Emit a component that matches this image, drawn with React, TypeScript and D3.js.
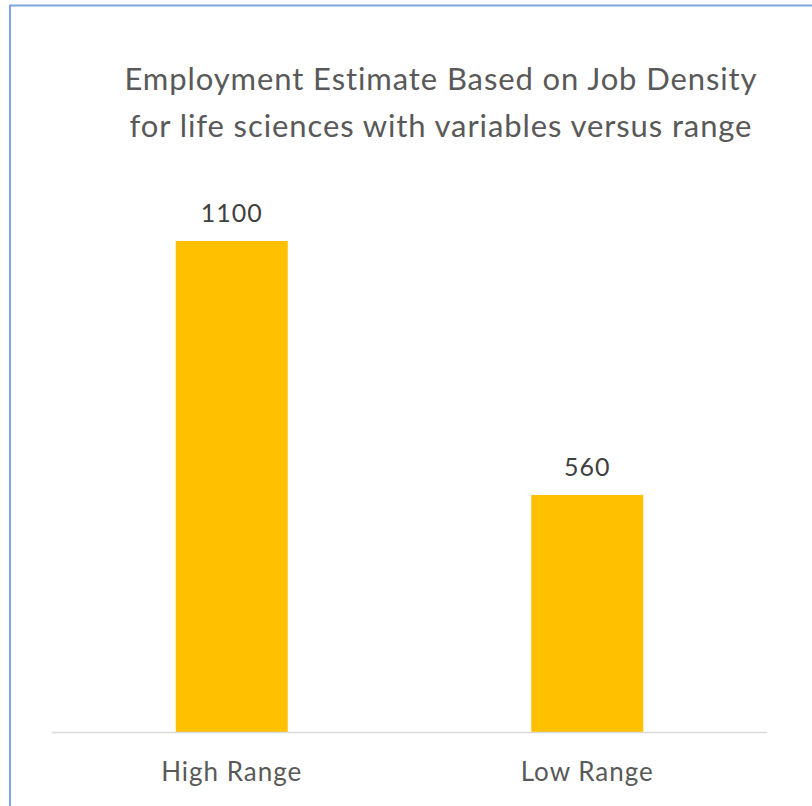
import React from "react";
import * as d3 from "d3";

const categories: string[] = ["High Range", "Low Range"];
const values: number[] = [1100, 560];
const valueLabels: string[] = ["1100", "560"];
const titleLines: string[] = [
  "Employment Estimate Based on Job Density",
  "for life sciences with variables versus range",
];

const W = 812;
const H = 806;
const FONT = "Lato, 'Open Sans', sans-serif";

export default function App() {
  const x = d3
    .scaleBand<string>()
    .domain(categories)
    .range([54, 765])
    .paddingInner(0.685)
    .paddingOuter(0.3425);
  const y = d3.scaleLinear().domain([56, 1100]).range([732, 241]);

  return (
    <svg
      width={W}
      height={H}
      style={{ position: "absolute", left: 0, top: 0, background: "#fff" }}
    >
      <rect x={10} y={5.5} width={830} height={830} fill="#fff" stroke="#7fa6dc" strokeWidth={2} />
      {titleLines.map((t, i) => (
        <text
          key={i}
          x={441}
          y={90 + i * 47}
          textAnchor="middle"
          fontFamily={FONT}
          fontSize={31}
          letterSpacing={0.9}
          fill="#595959"
        >
          {t}
        </text>
      ))}
      {categories.map((c, i) => (
        <g key={c}>
          <rect
            x={x(c)!}
            y={y(values[i])}
            width={x.bandwidth()}
            height={y.range()[0] - y(values[i])}
            fill="#FFC000"
          />
          <text
            x={x(c)! + x.bandwidth() / 2}
            y={y(values[i]) - 19}
            textAnchor="middle"
            fontFamily={FONT}
            fontSize={25}
            letterSpacing={1}
            fill="#404040"
          >
            {valueLabels[i]}
          </text>
          <text
            x={x(c)! + x.bandwidth() / 2}
            y={781}
            textAnchor="middle"
            fontFamily={FONT}
            fontSize={26}
            letterSpacing={1}
            fill="#595959"
          >
            {c}
          </text>
        </g>
      ))}
      <line x1={52} x2={767} y1={732.5} y2={732.5} stroke="#d9d9d9" strokeWidth={1.5} />
    </svg>
  );
}
